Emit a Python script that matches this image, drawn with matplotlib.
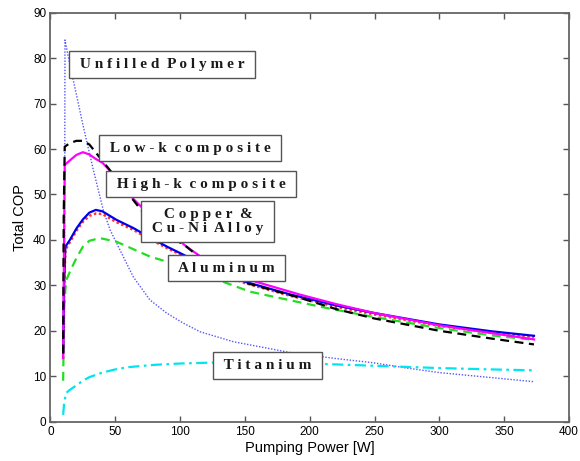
import matplotlib

matplotlib.use("Agg")
import matplotlib.pyplot as plt

# COP vs pumping power, one curve per heat-sink material
poly_x = [10.8, 11.2, 15, 20, 25.3, 33, 40.7, 46, 53.6, 63.8, 76.7, 89.6, 102.4, 115.3,
          141, 166.7, 185, 220, 248, 275, 300, 340, 373]
poly_y = [20, 84, 78.5, 72, 65, 55.5, 46.6, 42.2, 37.8, 31.9, 26.8, 23.9, 21.7, 19.8,
          17.6, 16.2, 15.2, 13.9, 13, 11.8, 10.8, 9.7, 8.8]

lowk_x = [9.8, 10.2, 11, 15, 20, 25, 30, 37, 44, 55, 66, 80, 105, 125, 150, 192, 220, 250, 300, 340, 373]
lowk_y = [15, 45, 60.5, 61.3, 61.8, 61.8, 61, 58.5, 56, 52, 48, 43, 38.5, 33.8, 30.6, 27.3, 24.8, 22.7, 20, 18.3, 17.0]

highk_x = [9.8, 10.5, 11, 15, 20, 25, 30, 35, 40, 50, 64, 80, 105, 125, 150, 192, 220, 250, 300, 340, 373]
highk_y = [14, 40, 56.5, 57.5, 58.7, 59.3, 58.8, 57.8, 57, 54, 49, 44.5, 38.5, 34.5, 31.5, 28, 25.9, 23.9, 21.2, 19.5, 18.1]

cu_x = [9.8, 10.5, 11.5, 15, 20, 25, 30, 35, 40, 51, 64, 75, 90, 100, 125, 150, 185, 220, 250, 300, 340, 373]
cu_y = [15, 30, 38.5, 40, 42.5, 44.5, 46, 46.6, 46.3, 44.4, 42.6, 40.8, 38.5, 37.1, 33.5, 30.8, 28, 25.6, 23.9, 21.4, 19.9, 18.9]

cuni_x = [9.8, 10.5, 11.5, 15, 20, 25, 30, 35, 40, 51, 64, 75, 90, 100, 125, 150, 185, 220, 250, 300, 340, 373]
cuni_y = [14, 29, 37.8, 39.5, 42, 44, 45.3, 45.8, 45.7, 43.9, 42.2, 40.4, 38.2, 36.8, 33.2, 30.5, 27.7, 25.3, 23.6, 21.1, 19.6, 18.6]

al_x = [9.8, 10.5, 12, 15, 20, 25, 30, 38, 51, 62, 77, 90, 110, 133, 154, 190, 215, 250, 300, 340, 373]
al_y = [9, 25, 31, 33, 36, 38.5, 39.8, 40.4, 39.6, 38.2, 36.3, 35.2, 33.2, 30.8, 28.6, 26.4, 24.9, 23, 20.6, 19, 18]

ti_x = [9.8, 10.5, 12, 15, 20, 25, 30, 40, 50, 60, 80, 100, 125, 150, 200, 250, 300, 340, 373]
ti_y = [1.5, 4, 6.3, 7, 8, 9, 9.8, 10.8, 11.5, 12, 12.5, 12.8, 13, 13, 12.8, 12.3, 11.8, 11.5, 11.3]

labels = ["Unfilled Polymer", "Low-k composite", "High-k composite",
          "Copper &\nCu-Ni Alloy", "Aluminum", "Titanium"]
label_x = [86.3, 107.6, 116.0, 121.4, 135.7, 167.3]
label_y = [78.6, 60.2, 52.3, 44.1, 33.8, 12.3]

x_ticks = [0, 50, 100, 150, 200, 250, 300, 350, 400]
y_ticks = [0, 10, 20, 30, 40, 50, 60, 70, 80, 90]


def spaced(text):
    # wide letter spacing for the box captions
    lines = []
    for line in text.split("\n"):
        words = [" ".join(w) for w in line.split(" ")]
        lines.append(" " + "  ".join(words) + " ")
    return "\n".join(lines)


fig = plt.figure(figsize=(5.8, 4.61), dpi=100)
ax = fig.add_axes([0.087, 0.0853, 0.894, 0.8872])

ax.plot(poly_x, poly_y, color="#5555ff", linestyle=(0, (1, 1.2)), linewidth=1.0, zorder=2)
ax.plot(al_x, al_y, color="#22dd22", linestyle=(0, (4, 2.5)), linewidth=1.6, zorder=3)
ax.plot(cuni_x, cuni_y, color="#ff3333", linestyle=(0, (1, 1)), linewidth=1.8, zorder=3)
ax.plot(cu_x, cu_y, color="#0000ee", linestyle="-", linewidth=1.6, zorder=4)
ax.plot(highk_x, highk_y, color="#ff00ff", linestyle="-", linewidth=1.6, zorder=4)
ax.plot(lowk_x, lowk_y, color="black", linestyle=(0, (4, 2.5)), linewidth=1.6, zorder=5)
ax.plot(ti_x, ti_y, color="#00e5ee", linestyle=(0, (5, 2, 1.2, 2)), linewidth=1.6, zorder=3)

for text, tx, ty in zip(labels, label_x, label_y):
    ax.text(tx, ty, spaced(text), ha="center", va="center", fontsize=11,
            fontweight="bold", family="Liberation Serif", color="#1a1a1a",
            linespacing=1.15, zorder=6,
            bbox=dict(boxstyle="square,pad=0.45", facecolor="white",
                      edgecolor="#555555", linewidth=1.0))

ax.set_xlim(0, 400)
ax.set_ylim(0, 90)
ax.set_xticks(x_ticks)
ax.set_yticks(y_ticks)
ax.tick_params(axis="both", direction="in", length=4, width=1.0, color="#555555",
               top=True, right=True, labelsize=8.5, pad=3)
for label in ax.get_xticklabels() + ax.get_yticklabels():
    label.set_family("Liberation Sans")
for spine in ax.spines.values():
    spine.set_color("#666666")
    spine.set_linewidth(1.3)

ax.set_xlabel("Pumping Power [W]", fontsize=10.5, family="Liberation Sans", labelpad=2)
ax.set_ylabel("Total COP", fontsize=10.5, family="Liberation Sans", labelpad=4)

fig.savefig("out.png", dpi=100)
